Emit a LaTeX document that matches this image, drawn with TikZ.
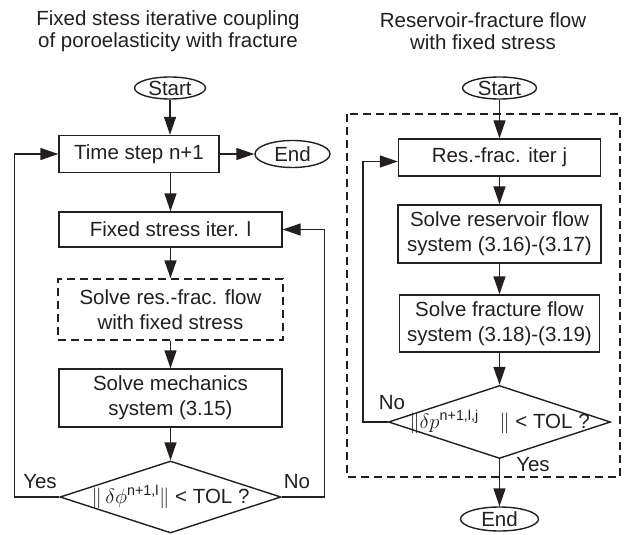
\documentclass[tikz,border=0pt]{standalone}
\usepackage{amsmath}
\usepackage{fontspec}
\setmainfont{Liberation Sans}
\usepackage{tikz}
\usetikzlibrary{arrows.meta,
shapes.geometric
}
\definecolor{inkgray}{RGB}{35,31,32}
\tikzset{>={Triangle[length=18pt, width=12pt]}}
\tikzset{
  procbox/.style={draw, rectangle, inner sep=0pt, align=center, minimum height=37pt},
  termnode/.style={draw, ellipse, inner sep=0pt, minimum height=22pt},
  decnode/.style={draw, diamond, inner sep=0pt, minimum width=221pt, minimum height=72pt},
  flowdash/.style={dash pattern=on 8pt off 5pt},
  titletext/.style={align=center, font=\fontsize{20.5}{22}\selectfont}
}

\begin{document}
\begin{tikzpicture}[x=1pt, y=-1pt, line width=1.4pt, color=inkgray, font=\fontsize{20.5}{25}\selectfont]
  \useasboundingbox (0,0) rectangle (633,535);

  % fixed stress coupling
  \node[titletext] (lefttitle) at (168,31) {Fixed stess iterative coupling\\of poroelasticity with fracture};
  \node[termnode, minimum width=71pt] (start1) at (170,88) {Start};
  \node[procbox, minimum width=160pt] (timestep) at (139,154) {Time step n+1};
  \node[termnode, minimum width=75pt, minimum height=27pt] (end1) at (292.5,154) {End};
  \node[procbox, minimum width=223pt, minimum height=35pt] (fixiter) at (170.5,229.5) {Fixed stress iter. l};
  \node[procbox, flowdash, minimum width=225pt, minimum height=61pt] (solveflow) at (170.5,309.5) {Solve res.-frac. flow\\with fixed stress};
  \node[procbox, minimum width=223pt, minimum height=58pt] (mech) at (170.5,398) {Solve mechanics\\system (3.15)};
  \node[decnode] (dec1) at (170.5,497) {\makebox[0pt]{$\|\,\delta\phi^{\text{n+1,l}}\|$ < TOL ?}};
  \node (yes1) at (40,482) {Yes};
  \node (no1) at (297,482) {No};

  \draw[->] (start1.south) -- (start1.south |- timestep.north);
  \draw[->] (timestep) -- (end1);
  \draw[->] (fixiter |- timestep.south) -- (fixiter.north);
  \draw[->] (fixiter) -- (solveflow);
  \draw[->] (solveflow) -- (mech);
  \draw[->] (mech) -- (dec1);
  \draw[->] (dec1.west) -- ++(-45,0) |- (timestep.west);
  \draw[->] (dec1.east) -- ++(43,0) |- (fixiter.east);

  % reservoir-fracture flow
  \node[titletext] (righttitle) at (483,31) {Reservoir-fracture flow\\with fixed stress};
  \node[termnode, minimum width=74pt] (start2) at (499.5,88) {Start};
  \draw[flowdash] (347,114) rectangle (620,477);
  \node[procbox, minimum width=202pt] (resiter) at (499.5,157.5) {Res.-frac. iter j};
  \node[procbox, minimum width=203pt, minimum height=58pt] (solveres) at (499.5,234) {Solve reservoir flow\\system (3.16)-(3.17)};
  \node[procbox, minimum width=200pt, minimum height=57pt] (solvefrac) at (499.5,323.5) {Solve fracture flow\\system (3.18)-(3.19)};
  \node[decnode, minimum width=222pt, minimum height=73pt] (dec2) at (499.5,422) {\makebox[0pt]{$\|\delta p^{\text{n+1,l,j}}\quad\|$ < TOL ?}};
  \node[termnode, minimum width=78pt, minimum height=24pt] (end2) at (499.5,519) {End};
  \node (no2) at (392,403) {No};
  \node (yes2) at (533,465) {Yes};

  \draw[->] (start2) -- (resiter);
  \draw[->] (resiter) -- (solveres);
  \draw[->] (solveres) -- (solvefrac);
  \draw[->] (solvefrac) -- (dec2);
  \draw[->] (dec2.west) -- ++(-25,0) |- ([yshift=-4pt]resiter.west);
  \draw[->] (dec2) -- (end2);
\end{tikzpicture}
\end{document}
